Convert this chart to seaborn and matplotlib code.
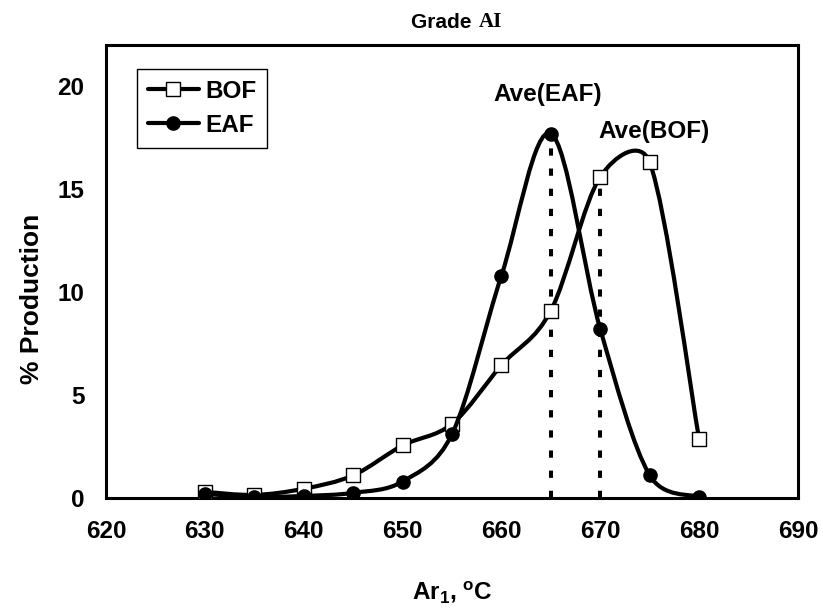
import numpy as np
import pandas as pd
import matplotlib
matplotlib.use("Agg")
import matplotlib.pyplot as plt
import seaborn as sns
from matplotlib.path import Path
from matplotlib.patches import PathPatch
from matplotlib.lines import Line2D

# ---------------- data ----------------
temps = [630, 635, 640, 645, 650, 655, 660, 665, 670, 675, 680]
bof = [0.3, 0.15, 0.45, 1.1, 2.55, 3.6, 6.45, 9.1, 15.6, 16.3, 2.85]
eaf = [0.2, 0.05, 0.1, 0.25, 0.8, 3.1, 10.8, 17.7, 8.2, 1.1, 0.05]
series_names = ["BOF", "EAF"]
ave_temp = {"EAF": 665, "BOF": 670}
ave_labels = {"EAF": "Ave(EAF)", "BOF": "Ave(BOF)"}
xticks = [620, 630, 640, 650, 660, 670, 680, 690]
yticks = [0, 5, 10, 15, 20]

df = pd.DataFrame({
    "temp": temps * 2,
    "pct": bof + eaf,
    "furnace": ["BOF"] * len(temps) + ["EAF"] * len(temps),
})

sns.set_theme(style="white")
plt.rcParams["font.family"] = ["Liberation Sans", "DejaVu Sans"]
plt.rcParams["font.weight"] = "bold"
plt.rcParams["text.color"] = "black"
plt.rcParams["axes.labelcolor"] = "black"
plt.rcParams["xtick.color"] = "black"
plt.rcParams["ytick.color"] = "black"
plt.rcParams["mathtext.fontset"] = "custom"
plt.rcParams["mathtext.rm"] = "Liberation Sans:bold"
plt.rcParams["mathtext.it"] = "Liberation Sans:bold"
plt.rcParams["mathtext.bf"] = "Liberation Sans:bold"

W, H = 823, 611
fig = plt.figure(figsize=(W / 100, H / 100), dpi=100)
ax = fig.add_axes([106 / W, 1 - 498 / H, 692 / W, 453 / H])
ax.set_xlim(620, 690)
ax.set_ylim(0, 22)
ax.set_xticks(xticks)
ax.set_yticks(yticks)

FS = 17.5
ax.tick_params(axis="both", direction="out", length=6.5, width=2.2,
               color="black", labelcolor="black", labelsize=FS, pad=9)
for lab in ax.get_xticklabels() + ax.get_yticklabels():
    lab.set_fontweight("bold")
for sp in ax.spines.values():
    sp.set_linewidth(2.2)
    sp.set_color("black")


def smooth_path(ax, xs, ys):
    pts = ax.transData.transform(np.column_stack([xs, ys]).astype(float))
    n = len(pts)
    verts = [pts[0]]
    codes = [Path.MOVETO]
    for i in range(n - 1):
        p0 = pts[i - 1] if i > 0 else pts[i]
        p1 = pts[i]
        p2 = pts[i + 1]
        p3 = pts[i + 2] if i + 2 < n else pts[i + 1]
        seg = np.linalg.norm(p2 - p1)
        t1 = (p2 - p0) / 6.0
        t2 = (p3 - p1) / 6.0
        cap = 0.5 * seg
        l1 = np.linalg.norm(t1)
        l2 = np.linalg.norm(t2)
        if l1 > cap:
            t1 = t1 * cap / l1
        if l2 > cap:
            t2 = t2 * cap / l2
        verts += [p1 + t1, p2 - t2, p2]
        codes += [Path.CURVE4] * 3
    verts = ax.transData.inverted().transform(np.array(verts))
    return Path(verts, codes)


LW = 3.0
series = {"BOF": bof, "EAF": eaf}
marker_style = {"BOF": dict(marker="s", color="white"),
                "EAF": dict(marker="o", color="black")}

# dotted average lines
for name in ["EAF", "BOF"]:
    xv = ave_temp[name]
    top = series[name][temps.index(xv)]
    ax.vlines(xv, 0, top, colors="black", linewidth=2.9,
              linestyles=(0, (1.8, 3.2)), zorder=1)

z = 2
for name in series_names:
    patch = PathPatch(smooth_path(ax, temps, series[name]), facecolor="none",
                      edgecolor="black", linewidth=LW, zorder=z,
                      capstyle="round", joinstyle="round")
    ax.add_patch(patch)
    sub = df[df["furnace"] == name]
    sns.scatterplot(data=sub, x="temp", y="pct", ax=ax,
                    marker=marker_style[name]["marker"],
                    color=marker_style[name]["color"],
                    edgecolor="black", linewidth=1.0, s=90,
                    legend=False, zorder=z + 1)
    z += 2

ax.set_xlabel(r"Ar$_{\mathrm{1}}$, $^{\mathrm{o}}$C", fontsize=FS,
              fontweight="bold", labelpad=26, color="black")
ax.set_ylabel("% Production", fontsize=19, fontweight="bold", color="black")
ax.yaxis.set_label_coords(-0.09, 0.44)

# annotations
ax.text(664.7, 19.6, ave_labels["EAF"], fontsize=FS, fontweight="bold",
        ha="center", va="center", color="black")
ax.text(675.4, 17.8, ave_labels["BOF"], fontsize=FS, fontweight="bold",
        ha="center", va="center", color="black")

# legend
handles = [
    Line2D([], [], color="black", lw=LW, marker="s", markerfacecolor="white",
           markeredgecolor="black", markersize=9.5, markeredgewidth=1.0),
    Line2D([], [], color="black", lw=LW, marker="o", markerfacecolor="black",
           markeredgecolor="black", markersize=9.5),
]
leg = ax.legend(handles, series_names, loc="upper left",
                bbox_to_anchor=(0.0448, 0.947), borderaxespad=0,
                prop={"weight": "bold", "size": FS}, frameon=True,
                fancybox=False, framealpha=1, edgecolor="black",
                handlelength=2.1, handletextpad=0.25, borderpad=0.45,
                labelspacing=0.45)
leg.get_frame().set_linewidth(1.0)
for t in leg.get_texts():
    t.set_color("black")

# title (mixed fonts)
fig.text(477 / W, 1 - 22 / H, "Grade ", fontsize=15, fontweight="bold",
         family=["Liberation Sans", "DejaVu Sans"], ha="right", va="center",
         color="black")
fig.text(479 / W, 1 - 22 / H, "AI", fontsize=15, fontweight="bold",
         family=["Liberation Serif", "DejaVu Serif"], ha="left", va="center",
         color="black")

fig.savefig("out.png", dpi=100, facecolor="white")
